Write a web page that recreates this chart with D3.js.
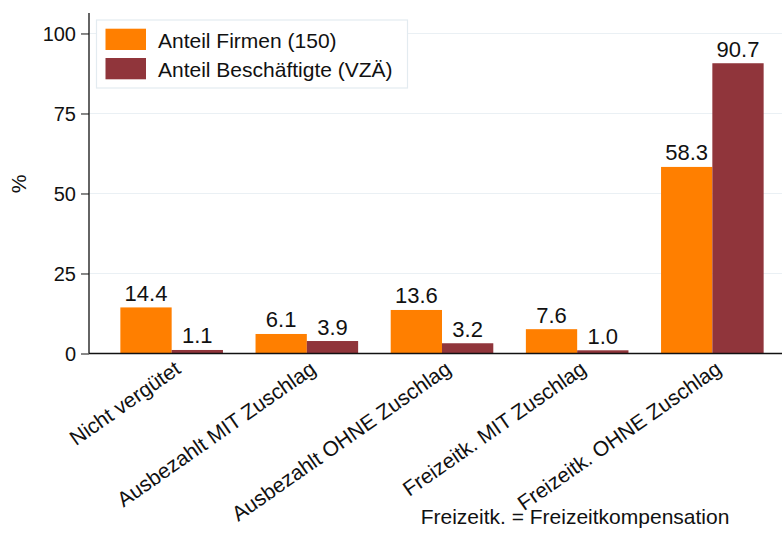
<!DOCTYPE html>
<html>
<head>
<meta charset="utf-8">
<script src="https://cdn.jsdelivr.net/npm/d3@7"></script>
<style>
  body { margin: 0; background: #fff; }
  svg { display: block; font-family: "Liberation Sans", Arial, sans-serif; }
</style>
</head>
<body>
<div id="chart"></div>
<script>
// data
var categories = ["Nicht vergütet", "Ausbezahlt MIT Zuschlag", "Ausbezahlt OHNE Zuschlag",
                  "Freizeitk. MIT Zuschlag", "Freizeitk. OHNE Zuschlag"];
var seriesNames = ["Anteil Firmen (150)", "Anteil Beschäftigte (VZÄ)"];
var firmen = [14.4, 6.1, 13.6, 7.6, 58.3];
var beschaeftigte = [1.1, 3.9, 3.2, 1.0, 90.7];
var yTicks = [0, 25, 50, 75, 100];
var note = "Freizeitk. = Freizeitkompensation";

var colors = ["#ff7f00", "#90353b"];

var W = 782, H = 535;
var x0 = 89, x1 = 795, yBase = 353.5, yTop = 13;

var svg = d3.select("#chart")
  .append("svg")
    .attr("width", W)
    .attr("height", H);

// scales
var x = d3.scaleBand()
  .domain(categories)
  .range([x0, x1])
  .paddingInner(0.241)
  .paddingOuter(0.232);

var xs = d3.scaleBand()
  .domain([0, 1])
  .range([0, x.bandwidth()]);

var y = d3.scaleLinear()
  .domain([0, 106.4])
  .range([yBase, yTop]);

// gridlines
svg.append("g")
  .selectAll("line")
  .data(yTicks.filter(function(d){ return d > 0; }))
  .enter()
  .append("line")
    .attr("x1", x0)
    .attr("x2", W)
    .attr("y1", function(d){ return y(d); })
    .attr("y2", function(d){ return y(d); })
    .attr("stroke", "#eaf0f4")
    .attr("stroke-width", 1.2);

// bars
var rows = categories.map(function(c, i){
  return {cat: c, vals: [firmen[i], beschaeftigte[i]]};
});

var groups = svg.append("g")
  .selectAll("g")
  .data(rows)
  .enter()
  .append("g")
    .attr("transform", function(d){ return "translate(" + x(d.cat) + ",0)"; });

groups.selectAll("rect")
  .data(function(d){ return d.vals; })
  .enter()
  .append("rect")
    .attr("x", function(d, i){ return xs(i); })
    .attr("width", xs.bandwidth())
    .attr("y", function(d){ return y(d); })
    .attr("height", function(d){ return yBase - y(d); })
    .attr("fill", function(d, i){ return colors[i]; });

// value labels
groups.selectAll("text")
  .data(function(d){ return d.vals; })
  .enter()
  .append("text")
    .attr("x", function(d, i){ return xs(i) + xs.bandwidth() / 2; })
    .attr("y", function(d){ return y(d) - 6.5; })
    .attr("text-anchor", "middle")
    .style("font-size", "22px")
    .attr("fill", "#111")
    .text(function(d){ return d.toFixed(1); });

// y axis
var yAxis = svg.append("g")
  .attr("transform", "translate(" + x0 + ",0)")
  .call(d3.axisLeft(y).tickValues(yTicks).tickSize(8).tickPadding(5));
yAxis.select(".domain").remove();
yAxis.selectAll("text").style("font-size", "20px").attr("fill", "#111").attr("dy", "0.36em");
yAxis.selectAll("line").attr("stroke", "#111");

svg.append("line")
  .attr("x1", x0).attr("x2", x0)
  .attr("y1", yTop).attr("y2", yBase)
  .attr("stroke", "#111").attr("stroke-width", 1.3);

// x axis line
svg.append("line")
  .attr("x1", x0).attr("x2", W)
  .attr("y1", yBase).attr("y2", yBase)
  .attr("stroke", "#111").attr("stroke-width", 1.3);

// x labels, rotated
svg.append("g")
  .selectAll("text")
  .data(categories)
  .enter()
  .append("text")
    .attr("transform", function(d){
      return "translate(" + (x(d) + x.bandwidth() / 2 + 10.5) + "," + (yBase + 18.5) + ") rotate(-35)";
    })
    .attr("text-anchor", "end")
    .style("font-size", "21px")
    .attr("fill", "#111")
    .text(function(d){ return d; });

// y axis title
svg.append("text")
  .attr("transform", "translate(26,184) rotate(-90)")
  .attr("text-anchor", "middle")
  .style("font-size", "21px")
  .attr("fill", "#111")
  .text("%");

// note
svg.append("text")
  .attr("x", 575)
  .attr("y", 524)
  .attr("text-anchor", "middle")
  .style("font-size", "21px")
  .attr("fill", "#111")
  .text(note);

// legend
var legend = svg.append("g");
legend.append("rect")
  .attr("x", 96.5).attr("y", 20)
  .attr("width", 311).attr("height", 68)
  .attr("fill", "#fff")
  .attr("stroke", "#e3ebf0")
  .attr("stroke-width", 1.2);

legend.selectAll("rect.sw")
  .data(seriesNames)
  .enter()
  .append("rect")
    .attr("class", "sw")
    .attr("x", 105.5)
    .attr("y", function(d, i){ return 28.7 + i * 29.3; })
    .attr("width", 40.5)
    .attr("height", 21.3)
    .attr("fill", function(d, i){ return colors[i]; });

legend.selectAll("text")
  .data(seriesNames)
  .enter()
  .append("text")
    .attr("x", 158)
    .attr("y", function(d, i){ return 47.7 + i * 29.3; })
    .style("font-size", "21px")
    .attr("fill", "#111")
    .text(function(d){ return d; });
</script>
</body>
</html>
